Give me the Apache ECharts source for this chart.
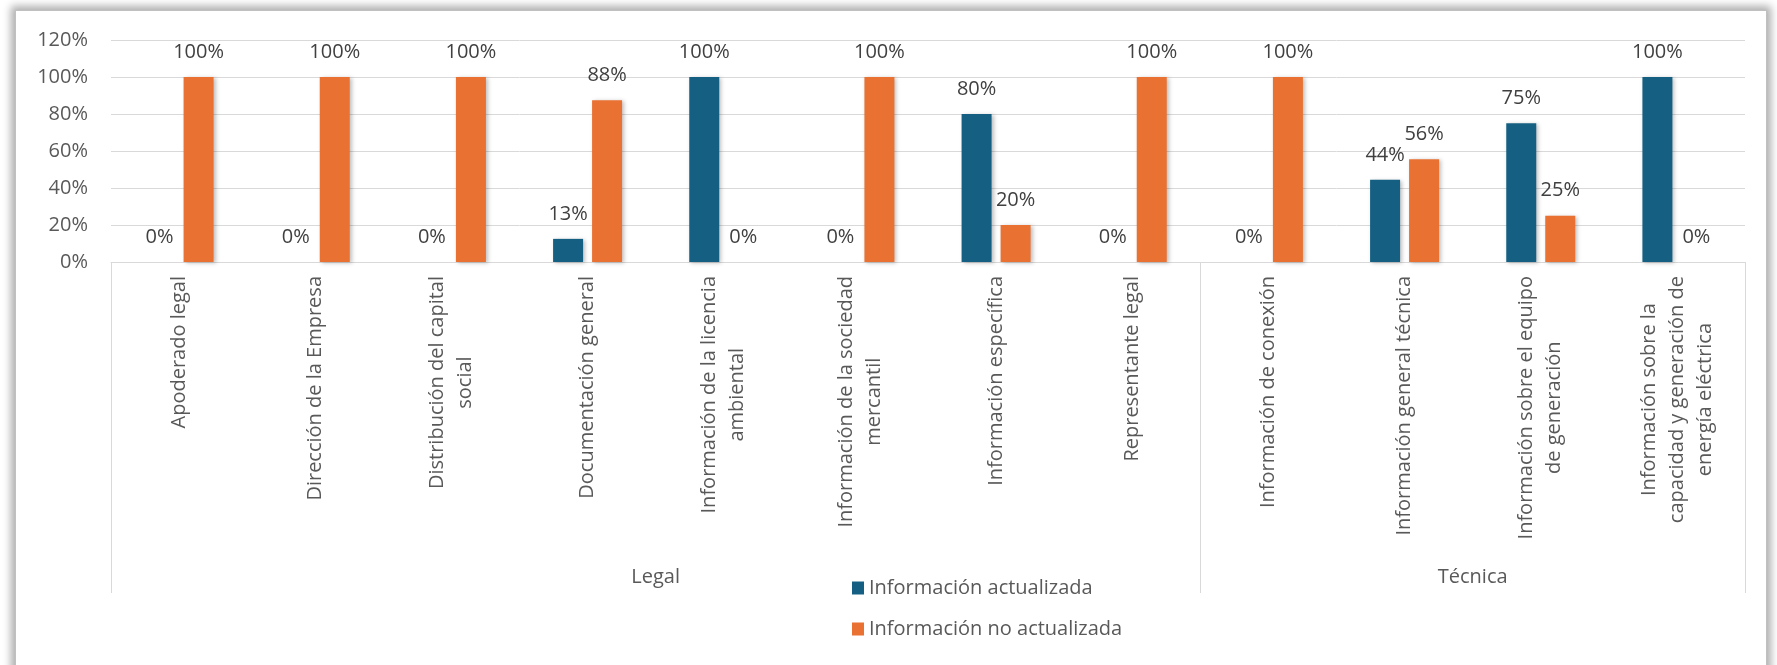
<!DOCTYPE html>
<html>
<head>
<meta charset="utf-8">
<script src="https://cdn.jsdelivr.net/npm/echarts@6/dist/echarts.min.js"></script>
<style>
  html, body { margin: 0; padding: 0; background: #ffffff; width: 1777px; height: 665px; overflow: hidden; }
  #frame { position: absolute; left: 15px; top: 10px; width: 1750px; height: 700px; background: #ffffff;
           border: 1px solid #c0c0c0; box-shadow: 0 0 8px 4px rgba(0,0,0,0.32); }
  #chart { position: absolute; left: 0; top: 0; width: 1777px; height: 665px; }
</style>
</head>
<body>
<div id="frame"></div>
<div id="chart"></div>
<script>
const categories = [
  'Apoderado legal',
  'Dirección de la Empresa',
  'Distribución del capital\nsocial',
  'Documentación general',
  'Información de la licencia\nambiental',
  'Información de la sociedad\nmercantil',
  'Información específica',
  'Representante legal',
  'Información de conexión',
  'Información general técnica',
  'Información sobre el equipo\nde generación',
  'Información sobre la\ncapacidad y generación de\nenergía eléctrica'
];
const groups = ['Legal', 'Técnica'];
const groupSizes = [8, 4];
const seriesNames = ['Información actualizada', 'Información no actualizada'];
const actualizada   = [0, 0, 0, 0.125, 1, 0, 0.8, 0, 0, 0.444, 0.75, 1];
const noActualizada = [1, 1, 1, 0.875, 0, 1, 0.2, 1, 1, 0.556, 0.25, 0];
const yMin = 0, yMax = 1.2, yStep = 0.2;

const FONT = 'Open Sans';
const TXT = '#595959';
const colors = ['#156082', '#E97132'];

const pct = v => Math.round(v * 100) + '%';

const chart = echarts.init(document.getElementById('chart'), null, { renderer: 'canvas' });

const barLabel = {
  show: true, position: 'top', distance: 15,
  fontFamily: FONT, fontSize: 20, color: '#404040',
  formatter: p => pct(p.value)
};
const barShadow = { shadowBlur: 4, shadowColor: 'rgba(0,0,0,0.25)', shadowOffsetX: 2, shadowOffsetY: 1 };

chart.setOption({
  animation: false,
  color: colors,
  grid: { left: 111, right: 32, top: 40, bottom: 403, containLabel: false },
  legend: {
    orient: 'vertical', left: 852, top: 578, padding: 0,
    icon: 'rect', itemWidth: 12, itemHeight: 13, itemGap: 21,
    textStyle: { fontFamily: FONT, fontSize: 20, color: TXT },
    data: seriesNames
  },
  xAxis: {
    type: 'category', data: categories,
    axisLine: { lineStyle: { color: '#D9D9D9', width: 1 } },
    axisTick: { show: false },
    axisLabel: {
      interval: 0, rotate: 90, margin: 14,
      formatter: v => v.split('\n').map(s => '{c|' + s + '}').join('\n'),
      rich: { c: { align: 'center', fontFamily: FONT, fontSize: 20, color: TXT, lineHeight: 28 } }
    }
  },
  yAxis: {
    type: 'value', min: yMin, max: yMax, interval: yStep,
    axisLine: { show: false }, axisTick: { show: false },
    axisLabel: { formatter: v => pct(v), fontFamily: FONT, fontSize: 20, color: TXT, margin: 23 },
    splitLine: { lineStyle: { color: '#D9D9D9', width: 1 } }
  },
  series: [
    { name: seriesNames[0], type: 'bar', data: actualizada, barWidth: 30, barGap: '30%',
      itemStyle: Object.assign({ color: colors[0] }, barShadow), label: barLabel },
    { name: seriesNames[1], type: 'bar', data: noActualizada, barWidth: 30, barGap: '30%',
      itemStyle: Object.assign({ color: colors[1] }, barShadow), label: barLabel }
  ]
});

// Group (second level) axis: boundaries and labels computed from the category scale
const c0 = chart.convertToPixel({ xAxisIndex: 0 }, 0);
const c1 = chart.convertToPixel({ xAxisIndex: 0 }, 1);
const band = c1 - c0;
const axisY = chart.convertToPixel({ yAxisIndex: 0 }, 0);
const lineBottom = 593;
const graphics = [];
let start = 0;
const boundaries = [0];
groups.forEach((g, i) => {
  const end = start + groupSizes[i] - 1;
  const x0 = chart.convertToPixel({ xAxisIndex: 0 }, start) - band / 2;
  const x1 = chart.convertToPixel({ xAxisIndex: 0 }, end) + band / 2;
  graphics.push({
    type: 'text',
    x: (x0 + x1) / 2, y: 577,
    style: { text: g, fontFamily: FONT, fontSize: 20, fill: TXT, align: 'center', verticalAlign: 'middle' }
  });
  start = end + 1;
  boundaries.push(start);
});
boundaries.forEach(b => {
  const x = Math.round(c0 + (b - 0.5) * band) + 0.5;
  graphics.push({
    type: 'line',
    shape: { x1: x, y1: axisY, x2: x, y2: lineBottom },
    style: { stroke: '#D9D9D9', lineWidth: 1 }
  });
});
chart.setOption({ graphic: graphics });
</script>
</body>
</html>
